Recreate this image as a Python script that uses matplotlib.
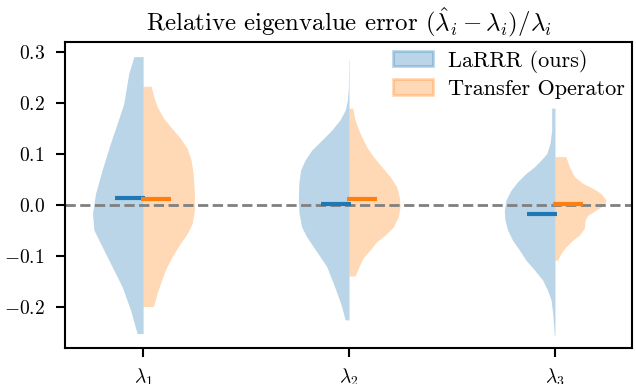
import matplotlib
matplotlib.use("Agg")
import matplotlib.pyplot as plt
from matplotlib.patches import Patch

plt.rcParams['font.family'] = 'serif'
plt.rcParams['font.serif'] = ['cmr10']
plt.rcParams['mathtext.fontset'] = 'cm'
plt.rcParams['axes.formatter.use_mathtext'] = True

# categories (one split violin per eigenvalue)
labels = [r'$\lambda_1$', r'$\lambda_2$', r'$\lambda_3$']
positions = [0, 1, 2]
series_names = ['LaRRR (ours)', 'Transfer Operator']

# half-violin outlines: error value -> half width
larrr_y = [
    [0.291, 0.258, 0.199, 0.160, 0.121, 0.069, 0.023, -0.016, -0.049, -0.075,
     -0.114, -0.160, -0.206, -0.252],
    [0.284, 0.232, 0.206, 0.186, 0.167, 0.147, 0.127, 0.108, 0.088, 0.069, 0.043,
     0.010, -0.016, -0.043, -0.062, -0.082, -0.101, -0.121, -0.154, -0.180, -0.199, -0.225],
    [0.190, 0.147, 0.121, 0.101, 0.088, 0.075, 0.062, 0.046, 0.029, 0.010, -0.010,
     -0.029, -0.049, -0.069, -0.088, -0.108, -0.127, -0.147, -0.167, -0.186, -0.212, -0.255],
]
larrr_w = [
    [0.045, 0.070, 0.094, 0.126, 0.159, 0.199, 0.231, 0.246, 0.239, 0.207,
     0.159, 0.102, 0.061, 0.029],
    [0.002, 0.003, 0.008, 0.019, 0.044, 0.084, 0.133, 0.181, 0.214, 0.235, 0.244,
     0.246, 0.243, 0.230, 0.206, 0.173, 0.141, 0.108, 0.076, 0.052, 0.036, 0.019],
    [0.016, 0.016, 0.024, 0.040, 0.068, 0.100, 0.141, 0.181, 0.214, 0.238, 0.246,
     0.243, 0.230, 0.206, 0.173, 0.141, 0.100, 0.060, 0.036, 0.019, 0.011, 0.003],
]
to_y = [
    [0.233, 0.212, 0.193, 0.170, 0.150, 0.131, 0.111, 0.088, 0.062, 0.023, -0.010,
     -0.036, -0.056, -0.075, -0.101, -0.127, -0.154, -0.173, -0.193, -0.199],
    [0.190, 0.167, 0.141, 0.114, 0.095, 0.075, 0.056, 0.036, 0.016, -0.003, -0.023,
     -0.043, -0.059, -0.072, -0.088, -0.105, -0.124, -0.139],
    [0.095, 0.075, 0.056, 0.043, 0.033, 0.023, 0.010, 0.000, -0.010, -0.020, -0.029,
     -0.046, -0.059, -0.069, -0.082, -0.095, -0.108],
]
to_w = [
    [0.039, 0.052, 0.068, 0.100, 0.141, 0.181, 0.214, 0.233, 0.243, 0.249, 0.249,
     0.238, 0.214, 0.181, 0.141, 0.108, 0.084, 0.068, 0.055, 0.049],
    [0.018, 0.029, 0.053, 0.086, 0.118, 0.159, 0.199, 0.231, 0.244, 0.248, 0.239,
     0.215, 0.175, 0.134, 0.102, 0.066, 0.045, 0.029],
    [0.053, 0.070, 0.094, 0.134, 0.183, 0.223, 0.248, 0.239, 0.199, 0.159, 0.147,
     0.142, 0.118, 0.086, 0.053, 0.029, 0.013],
]

# mean markers
larrr_mean = [0.014, 0.003, -0.018]
to_mean = [0.012, 0.012, 0.003]

blue = '#1f77b4'
orange = '#ff7f0e'

fig, ax = plt.subplots(figsize=(6.36, 3.84), dpi=100)
fig.subplots_adjust(left=0.102, right=0.994, bottom=0.094, top=0.891)

for i, p in enumerate(positions):
    left = [p - w for w in larrr_w[i]]
    ax.fill_betweenx(larrr_y[i], left, p, color=blue, alpha=0.3, linewidth=0, zorder=1)
    right = [p + w for w in to_w[i]]
    ax.fill_betweenx(to_y[i], p, right, color=orange, alpha=0.3, linewidth=0, zorder=1)
    ax.plot([p - 0.135, p + 0.01], [larrr_mean[i]] * 2, color=blue, lw=3,
            solid_capstyle='butt', zorder=3)
    ax.plot([p - 0.01, p + 0.137], [to_mean[i]] * 2, color=orange, lw=3,
            solid_capstyle='butt', zorder=3)

ax.axhline(0, color='gray', ls='--', lw=2, zorder=2)

ax.set_xlim(-0.38, 2.375)
ax.set_ylim(-0.28, 0.32)
ax.set_xticks(positions)
ax.set_xticklabels(labels)
ax.set_yticks([-0.2, -0.1, 0.0, 0.1, 0.2, 0.3])
ax.tick_params(axis='both', labelsize=14, length=6.5, width=1.5)
ax.tick_params(axis='y', pad=8)
ax.tick_params(axis='x', pad=7)
for s in ax.spines.values():
    s.set_linewidth(1.5)
ax.set_title(r'Relative eigenvalue error $(\hat{\lambda}_i - \lambda_i)/\lambda_i$',
             fontsize=17.9, pad=8)

handles = [Patch(facecolor=blue, edgecolor=blue, alpha=0.3, lw=2),
           Patch(facecolor=orange, edgecolor=orange, alpha=0.3, lw=2)]
ax.legend(handles, series_names, loc='upper right', frameon=False, fontsize=16,
          handlelength=1.8, handleheight=0.68, borderaxespad=0.15, borderpad=0.2,
          labelspacing=0.3, handletextpad=0.64)

fig.savefig('out.png')
